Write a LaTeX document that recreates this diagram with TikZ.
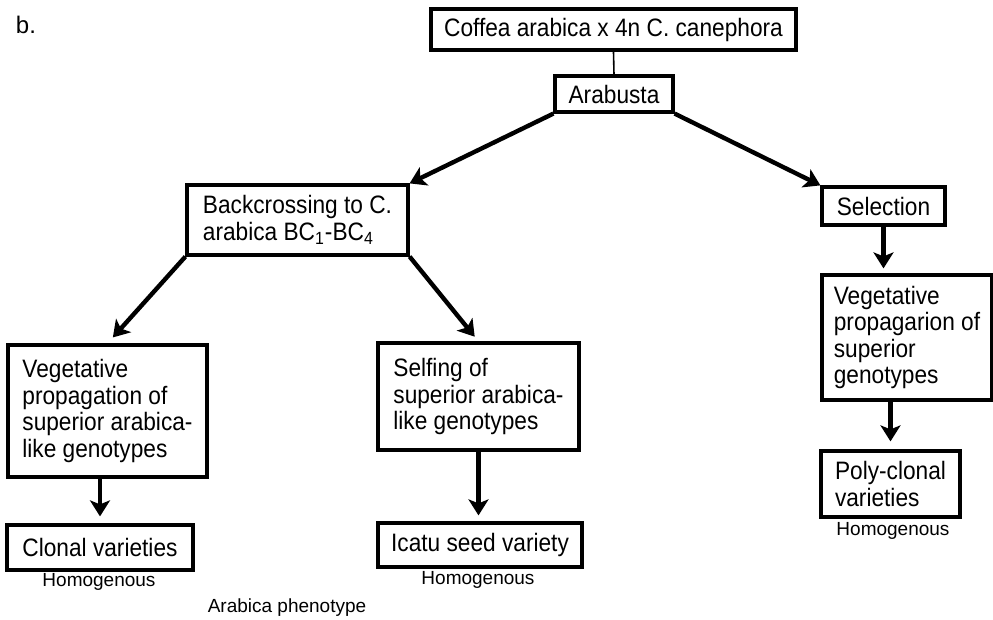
\documentclass[tikz,border=0pt]{standalone}
\usepackage{fontspec}
\setmainfont{Liberation Sans}
\newfontfamily\boxfont{Liberation Sans}[FakeStretch=0.9]
\usetikzlibrary{arrows.meta,calc}

\tikzset{
	box/.style={draw, line width=1.6pt, align=left, inner sep=0pt,
		font=\boxfont\fontsize{12.6}{13.3}\selectfont},
	note/.style={inner sep=0pt, font=\fontsize{9.5}{11}\selectfont},
	flow/.style={line width=2.2pt, -{Stealth[length=8pt,width=10pt,inset=2pt]}}
}

\begin{document}
\begin{tikzpicture}[x=0.5pt, y=-0.5pt]
	\useasboundingbox (0,0) rectangle (993,620);

	\node[inner sep=0pt, font=\fontsize{12}{13}\selectfont] (tag) at (26,25) {b.};

	% cross and hybrid
	\node[box, minimum width=182.5pt, minimum height=20.5pt] (cross) at (613.5,29.5) {Coffea arabica x 4n C. canephora};
	\node[box, minimum width=59pt, minimum height=18pt] (arabusta) at (614,94) {Arabusta};

	% two branches
	\node[box, minimum width=110.5pt, minimum height=35pt] (backcross) at (297.5,220) {Backcrossing to C.\\arabica BC\textsubscript{1}-BC\textsubscript{4}};
	\node[box, minimum width=61.5pt, minimum height=19pt] (selection) at (883.5,206) {Selection};

	% propagation
	\node[box, minimum width=99.5pt, minimum height=66pt] (vegleft) at (107.5,411) {Vegetative\\propagation of\\superior arabica-\\like genotypes};
	\node[box, minimum width=100.5pt, minimum height=53.5pt] (selfing) at (478.5,396.5) {Selfing of\\superior arabica-\\like genotypes};
	\node[box, minimum width=85pt, minimum height=62.5pt] (vegright) at (907,337.5) {Vegetative\\propagarion of\\superior\\genotypes};

	% varieties
	\node[box, minimum width=93pt, minimum height=22.5pt] (clonal) at (100,547.5) {Clonal varieties};
	\node[box, minimum width=102pt, minimum height=22pt] (icatu) at (480,545) {Icatu seed variety};
	\node[box, minimum width=69.5pt, minimum height=33pt] (poly) at (890.5,484) {Poly-clonal\\varieties};

	% notes
	\node[note] (homclonal) at (99,582) {Homogenous};
	\node[note] (homicatu) at (478,580) {Homogenous};
	\node[note] (hompoly) at (893,531) {Homogenous};
	\node[note] (phenotype) at (287,608) {Arabica phenotype};

	% connectors
	\draw[line width=0.8pt] (cross.south) -- (arabusta.north);
	\draw[flow] (arabusta.south west) -- (backcross.north east);
	\draw[flow] (arabusta.south east) -- (selection.north west);
	\draw[flow, shorten >=4pt] (backcross.south west) -- (vegleft.north);
	\draw[flow, shorten >=3pt] (backcross.south east) -- (selfing.north);
	\draw[flow, shorten >=3.5pt] (clonal.north |- vegleft.south) -- (clonal.north);
	\draw[flow, shorten >=3pt] (selfing.south) -- (selfing.south |- icatu.north);
	\draw[flow, shorten >=2.5pt] (selection.south) -- (selection.south |- vegright.north);
	\draw[flow, shorten >=4pt] (poly.north |- vegright.south) -- (poly.north);
\end{tikzpicture}
\end{document}
